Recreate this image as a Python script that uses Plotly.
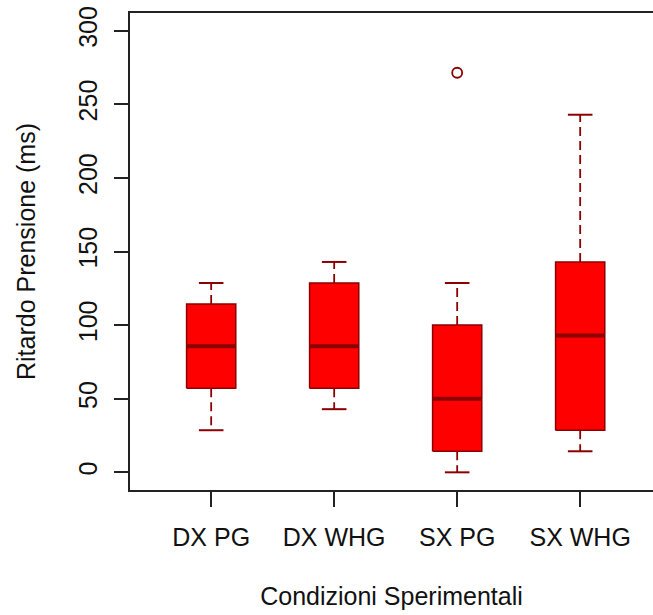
import plotly.graph_objects as go

categories = ["DX PG", "DX WHG", "SX PG", "SX WHG"]
lower_whisker = [28.6, 42.9, 0.0, 14.3]
q1 = [57.1, 57.1, 14.3, 28.6]
median = [85.7, 85.7, 50.0, 92.9]
q3 = [114.3, 128.6, 100.0, 142.9]
upper_whisker = [128.6, 142.9, 128.6, 242.9]
outlier_cat = ["SX PG"]
outlier_val = [271.4]
y_ticks = [0, 50, 100, 150, 200, 250, 300]

FILL = "#FF0000"
BORDER = "#8B0000"
BOX_HALF = 0.2
CAP_HALF = 0.1

pos = {c: i + 1 for i, c in enumerate(categories)}
fig = go.Figure()

for c, lo, a, m, b, hi in zip(categories, lower_whisker, q1, median, q3, upper_whisker):
    p = pos[c]
    # whiskers (dashed)
    fig.add_trace(go.Scatter(x=[p, p, None, p, p], y=[b, hi, None, a, lo], mode="lines",
                             line=dict(color=BORDER, width=1.8, dash="9px,5px"),
                             hoverinfo="skip", showlegend=False))
    # caps
    fig.add_trace(go.Scatter(x=[p - CAP_HALF, p + CAP_HALF, None, p - CAP_HALF, p + CAP_HALF],
                             y=[hi, hi, None, lo, lo], mode="lines",
                             line=dict(color=BORDER, width=2), hoverinfo="skip", showlegend=False))
    # box
    fig.add_trace(go.Scatter(x=[p - BOX_HALF, p + BOX_HALF, p + BOX_HALF, p - BOX_HALF, p - BOX_HALF],
                             y=[a, a, b, b, a], mode="lines", fill="toself", fillcolor=FILL,
                             line=dict(color=BORDER, width=1.5), hoverinfo="skip", showlegend=False))
    # median
    fig.add_trace(go.Scatter(x=[p - BOX_HALF, p + BOX_HALF], y=[m, m], mode="lines",
                             line=dict(color=BORDER, width=4), hoverinfo="skip", showlegend=False))

fig.add_trace(go.Scatter(x=[pos[c] for c in outlier_cat], y=outlier_val, mode="markers",
                         marker=dict(symbol="circle-open", size=10, color=BORDER, line=dict(width=1.8)),
                         hoverinfo="skip", showlegend=False))

FONT = "Liberation Sans, Arial, sans-serif"
fig.update_layout(
    width=653, height=615,
    margin=dict(l=130, r=0, t=13, b=125),
    paper_bgcolor="white", plot_bgcolor="white",
    font=dict(family=FONT, size=25, color="#111"),
    xaxis=dict(range=[0.34, 4.592], tickmode="array", tickvals=[pos[c] for c in categories],
               ticktext=categories, ticks="outside", ticklen=15, tickwidth=1.5, tickcolor="#222",
               showline=True, linecolor="#222", linewidth=1.5, mirror=True, showgrid=False,
               zeroline=False, ticklabelstandoff=9,
               title=dict(text="Condizioni Sperimentali", standoff=38, font=dict(size=25))),
    yaxis=dict(range=[-12, 312], tickmode="array", tickvals=y_ticks, ticks="outside", ticklen=14,
               tickwidth=1.5, tickcolor="#222", showline=True, linecolor="#222", linewidth=1.5,
               mirror=False, showgrid=False, zeroline=False, tickangle=-90, ticklabelstandoff=7,
               title=dict(text="Ritardo Prensione (ms)", standoff=32, font=dict(size=25))),
)

fig.write_html("out.html")
